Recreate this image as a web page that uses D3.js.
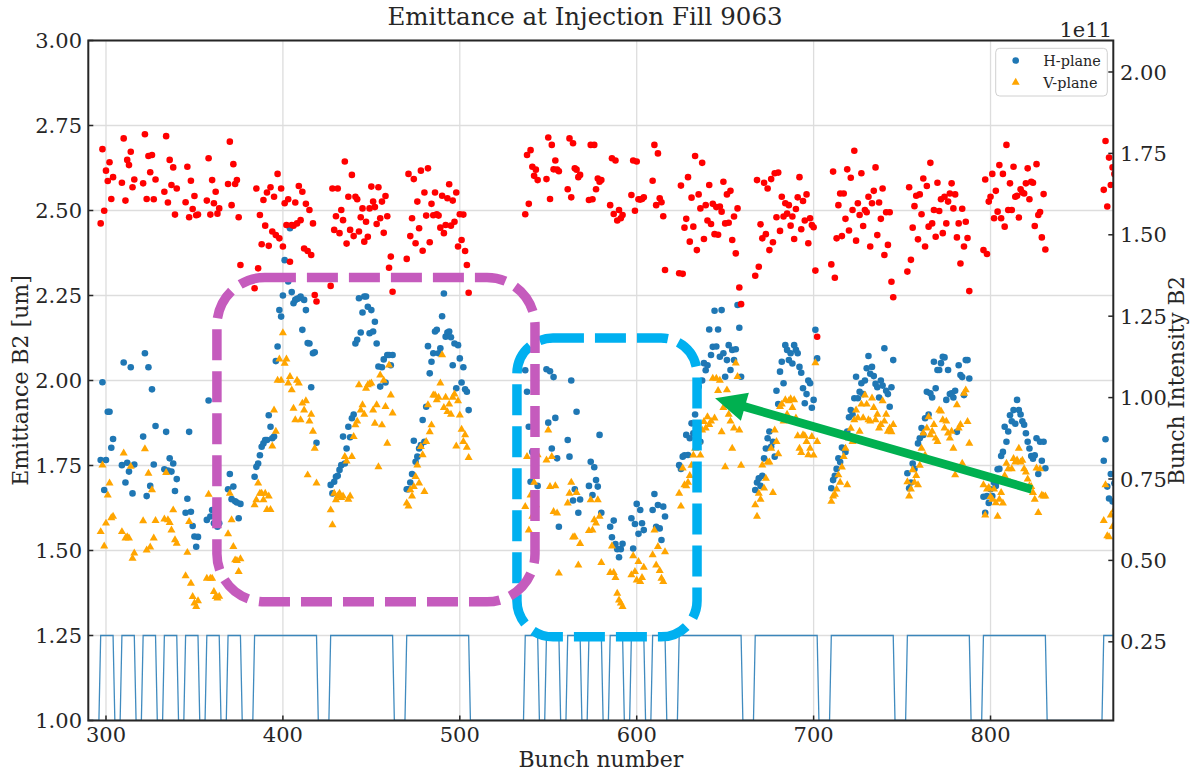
<!DOCTYPE html>
<html>
<head>
<meta charset="utf-8">
<script src="https://cdn.jsdelivr.net/npm/d3@7"></script>
<style>
  body { margin: 0; background: #fff; }
  text { font-family: "DejaVu Serif", serif; fill: #262626; }
</style>
</head>
<body>
<svg id="chart" width="1191" height="771"></svg>
<script>
// ---- Filling scheme: first slot and number of bunches of every train ----
const trainStart  = [297, 309, 321, 333, 345, 357, 369, 384, 427, 470,
                     537, 549, 561, 573, 585, 597, 609, 624, 667, 710, 753, 796, 864];
const trainLength = [8, 8, 8, 8, 8, 8, 8, 36, 36, 36,
                     8, 8, 8, 8, 8, 8, 8, 36, 36, 36, 36, 36, 8];

// ---- Horizontal emittance per bunch [um] ----
const emitH = [
  1.766, 1.995, 1.678, 1.766, 1.908, 1.908, 1.802, 1.828,
  1.751, 2.053, 1.700, 1.758, 1.732, 2.039, 1.668, 1.753,
  1.835, 2.080, 1.660, 2.039, 1.690, 1.974, 1.753, 1.866,
  1.739, 1.849, 1.735, 1.771, 1.732, 1.756, 1.675, 1.710,
  1.611, 1.652, 1.849, 1.614, 1.572, 1.541, 1.511, 1.540,
  1.590, 1.941, 1.600, 1.619, 1.580, 1.610, 1.570, 1.580,
  1.680, 1.725, 1.651, 1.688, 1.645, 1.641, 1.595, 1.637,
  1.717, 1.746, 1.756, 1.780, 1.805, 1.815, 1.825, 1.825, 1.898, 1.864,
  1.830, 1.835, 2.057, 2.100, 2.207, 2.188, 2.250, 2.354, 2.300, 2.291,
  2.448, 2.260, 2.227, 2.237, 2.240, 2.242, 2.247, 2.149, 2.237, 2.207,
  2.110, 2.109, 1.980, 2.080, 2.083, 1.817,
  1.693, 1.668, 1.702, 1.717, 1.720, 1.737, 1.751, 1.835, 1.756, 1.800,
  1.864, 1.833, 1.889, 1.900, 2.109, 2.120, 2.242, 2.141, 2.200, 2.247,
  2.247, 2.217, 2.139, 2.207, 2.144, 2.173, 2.109, 2.041, 1.982, 2.039,
  2.062, 1.994, 2.075, 2.075, 2.045, 2.075,
  1.680, 1.680, 1.700, 1.725, 1.823, 1.761, 1.776, 1.800, 1.810, 1.884,
  1.820, 1.923, 2.101, 2.021, 2.055, 2.080, 2.144, 2.149, 2.080, 2.095,
  2.189, 2.256, 2.129, 2.141, 2.144, 2.127, 2.045, 2.109, 1.977, 2.104,
  2.065, 1.994, 2.039, 1.974, 1.967, 1.913,
  2.030, 1.967, 1.864, 1.702, 1.790, 1.786, 1.770, 1.690,
  2.033, 1.876, 2.027, 1.800, 2.010, 1.890, 1.771, 1.570,
  1.825, 1.776, 2.000, 1.647, 1.680, 1.908, 1.611, 1.650,
  1.690, 1.761, 1.663, 1.745, 1.707, 1.688, 1.840, 1.611,
  1.570, 1.539, 1.588, 1.519, 1.504, 1.480, 1.504, 1.520,
  1.595, 1.506, 1.578, 1.637, 1.549, 1.619, 1.580, 1.560,
  1.619, 1.666, 1.570, 1.634, 1.565, 1.531, 1.629, 1.600,
  1.751, 1.740, 1.776, 1.780, 1.840, 1.781, 1.830, 1.874, 1.845, 1.900,
  1.950, 1.982, 1.820, 2.000, 2.051, 2.030, 2.045, 2.150, 2.075, 2.099,
  2.205, 2.100, 2.150, 2.070, 2.207, 2.080, 2.011, 2.060, 2.104, 2.031,
  2.090, 2.060, 2.092, 2.222, 2.155, 2.011,
  1.678, 1.700, 1.712, 1.690, 1.720, 1.771, 1.800, 1.830, 1.850, 1.805,
  1.820, 1.776, 1.970, 1.931, 2.026, 2.055, 1.992, 2.104, 2.090, 2.060,
  2.080, 2.050, 2.104, 2.090, 2.080, 2.040, 2.023, 1.977, 1.933, 1.960,
  2.000, 1.992, 1.920, 1.943, 2.149, 2.065,
  1.683, 1.707, 1.720, 1.740, 1.771, 1.760, 1.803, 1.800, 1.790, 1.850,
  1.892, 1.913, 1.900, 1.948, 2.011, 1.948, 1.967, 1.992, 1.960, 2.000,
  2.036, 2.072, 2.020, 2.040, 2.013, 1.990, 1.980, 1.950, 2.000, 1.985,
  2.095, 1.970, 1.960, 1.923, 1.980, 2.060,
  1.727, 1.683, 1.700, 1.756, 1.740, 1.780, 1.815, 1.830, 1.860, 1.840,
  1.889, 1.967, 1.900, 1.962, 1.950, 2.055, 1.977, 2.031, 2.031, 2.051,
  2.070, 2.068, 1.943, 2.031, 1.960, 1.962, 1.950, 1.970, 1.849, 2.045,
  2.016, 2.010, 1.957, 2.060, 2.060, 2.006,
  1.658, 1.611, 1.660, 1.640, 1.680, 1.660, 1.700, 1.690, 1.739, 1.740,
  1.778, 1.790, 1.864, 1.820, 1.850, 1.898, 1.880, 1.913, 1.873, 1.943,
  1.913, 1.900, 1.880, 1.870, 1.845, 1.820, 1.800, 1.778, 1.770, 1.780,
  1.830, 1.725, 1.820, 1.764, 1.820, 1.742,
  1.764, 1.827, 1.688, 1.653, 1.725, 1.644, 1.698, 1.720
];

// ---- Vertical emittance per bunch [um] ----
const emitV = [
  1.555, 1.751, 1.513, 1.580, 1.663, 1.698, 1.596, 1.600,
  1.555, 1.786, 1.536, 1.540, 1.536, 1.747, 1.477, 1.492,
  1.587, 1.799, 1.501, 1.727, 1.510, 1.678, 1.536, 1.588,
  1.592, 1.729, 1.590, 1.582, 1.560, 1.619, 1.531, 1.521,
  1.425, 1.494, 1.585, 1.403, 1.364, 1.345, 1.335, 1.352,
  1.418, 1.665, 1.418, 1.418, 1.379, 1.364, 1.360, 1.365,
  1.549, 1.668, 1.590, 1.511, 1.472, 1.470, 1.438, 1.475,
  1.634, 1.649, 1.698, 1.668, 1.668, 1.649, 1.668, 1.620, 1.660, 1.620,
  1.807, 1.913, 1.850, 2.000, 2.063, 2.000, 2.140, 2.050, 2.063, 1.992,
  2.011, 1.972, 1.918, 1.884, 2.000, 1.992, 1.884, 1.933, 1.913, 1.940,
  1.722, 1.880, 1.900, 1.850, 1.800, 1.698,
  1.619, 1.575, 1.668, 1.649, 1.660, 1.668, 1.655, 1.660, 1.776, 1.763,
  1.650, 1.660, 1.776, 1.835, 1.869, 1.880, 1.987, 1.913, 1.928, 1.900,
  1.977, 1.987, 1.990, 1.992, 1.913, 1.874, 1.928, 1.746, 2.016, 1.869,
  2.000, 1.923, 1.815, 2.045, 1.957, 1.904,
  1.639, 1.630, 1.678, 1.660, 1.688, 1.717, 1.751, 1.698, 1.805, 1.781,
  1.673, 1.820, 1.928, 1.849, 1.869, 1.957, 1.957, 1.943, 1.950, 1.992,
  2.075, 1.920, 1.950, 1.908, 1.930, 1.900, 1.950, 1.960, 1.807, 1.940,
  1.898, 1.856, 1.820, 1.840, 1.803, 1.773,
  1.629, 1.776, 1.560, 1.663, 1.600, 1.700, 1.634, 1.781,
  1.766, 1.854, 1.688, 1.776, 1.614, 1.690, 1.610, 1.433,
  1.639, 1.668, 1.700, 1.539, 1.540, 1.670, 1.457, 1.520,
  1.558, 1.649, 1.560, 1.590, 1.580, 1.649, 1.600, 1.464,
  1.435, 1.513, 1.435, 1.420, 1.374, 1.354, 1.345, 1.335,
  1.428, 1.484, 1.438, 1.413, 1.467, 1.408, 1.420, 1.450,
  1.487, 1.560, 1.457, 1.511, 1.441, 1.418, 1.408, 1.496,
  1.668, 1.630, 1.742, 1.693, 1.690, 1.700, 1.720, 1.750, 1.780, 1.800,
  1.830, 1.820, 1.780, 1.854, 1.879, 1.860, 1.893, 1.870, 1.880, 2.006,
  1.889, 2.006, 1.970, 2.000, 1.849, 1.920, 1.746, 1.972, 1.900, 1.880,
  1.800, 1.860, 2.051, 2.011, 1.854, 1.750,
  1.634, 1.600, 1.668, 1.650, 1.751, 1.683, 1.712, 1.760, 1.760, 1.800,
  1.670, 1.854, 1.820, 1.784, 1.923, 1.930, 1.880, 1.943, 1.900, 1.940,
  1.946, 1.920, 1.943, 1.889, 1.837, 1.800, 1.788, 1.840, 1.837, 1.820,
  1.781, 1.800, 1.835, 1.780, 2.052, 1.820,
  1.644, 1.660, 1.665, 1.680, 1.722, 1.700, 1.745, 1.776, 1.800, 1.693,
  1.830, 1.859, 1.820, 1.884, 1.913, 1.890, 1.850, 1.930, 1.890, 1.957,
  1.930, 1.884, 1.880, 1.948, 1.920, 1.884, 1.900, 1.860, 1.870, 1.940,
  1.880, 1.900, 1.850, 1.860, 1.849, 1.870,
  1.702, 1.660, 1.680, 1.737, 1.700, 1.720, 1.693, 1.750, 1.800, 1.845,
  1.780, 1.860, 1.893, 1.840, 1.850, 1.870, 1.830, 1.820, 1.913, 1.910,
  1.884, 1.860, 1.880, 1.845, 1.830, 1.850, 1.800, 1.722, 1.928, 1.860,
  1.870, 1.756, 1.962, 1.972, 1.879, 1.815,
  1.693, 1.604, 1.680, 1.685, 1.658, 1.650, 1.680, 1.640, 1.600, 1.650,
  1.670, 1.639, 1.720, 1.756, 1.740, 1.700, 1.740, 1.770, 1.760, 1.766,
  1.800, 1.760, 1.765, 1.740, 1.730, 1.710, 1.690, 1.688, 1.670, 1.650,
  1.742, 1.611, 1.740, 1.663, 1.660, 1.660,
  1.588, 1.693, 1.543, 1.540, 1.604, 1.570, 1.620, 1.600
];

// ---- Bunch intensity per bunch [1e11 p] ----
const intensity = [
  1.535, 1.763, 1.574, 1.697, 1.665, 1.723, 1.610, 1.677,
  1.660, 1.796, 1.605, 1.730, 1.714, 1.755, 1.646, 1.670,
  1.658, 1.809, 1.610, 1.742, 1.692, 1.745, 1.609, 1.670,
  1.632, 1.803, 1.599, 1.730, 1.653, 1.707, 1.562, 1.642,
  1.600, 1.709, 1.554, 1.666, 1.579, 1.619, 1.560, 1.562,
  1.605, 1.735, 1.562, 1.668, 1.597, 1.632, 1.565, 1.581,
  1.656, 1.786, 1.591, 1.717, 1.656, 1.668, 1.554, 1.407,
  1.336, 1.642, 1.397, 1.561, 1.471, 1.607, 1.528, 1.630, 1.466, 1.646,
  1.510, 1.617, 1.499, 1.687, 1.489, 1.642, 1.464, 1.597, 1.530, 1.609,
  1.417, 1.530, 1.528, 1.599, 1.535, 1.650, 1.545, 1.632, 1.458, 1.595,
  1.450, 1.576, 1.438, 1.535, 1.315, 1.295,
  1.343, 1.642, 1.515, 1.557, 1.642, 1.505, 1.576, 1.545, 1.725, 1.473,
  1.617, 1.515, 1.684, 1.496, 1.617, 1.609, 1.510, 1.554, 1.581, 1.479,
  1.540, 1.494, 1.581, 1.648, 1.602, 1.585, 1.533, 1.646, 1.551, 1.602,
  1.506, 1.619, 1.557, 1.399, 1.433, 1.325,
  1.426, 1.687, 1.496, 1.551, 1.671, 1.474, 1.602, 1.520, 1.697, 1.451,
  1.630, 1.559, 1.704, 1.477, 1.595, 1.560, 1.630, 1.563, 1.559, 1.522,
  1.620, 1.505, 1.530, 1.612, 1.655, 1.528, 1.605, 1.540, 1.630, 1.464,
  1.563, 1.484, 1.562, 1.450, 1.407, 1.322,
  1.563, 1.745, 1.595, 1.760, 1.709, 1.681, 1.700, 1.668,
  1.671, 1.799, 1.610, 1.776, 1.701, 1.728, 1.700, 1.695,
  1.640, 1.796, 1.615, 1.781, 1.704, 1.700, 1.677, 1.684,
  1.607, 1.776, 1.609, 1.776, 1.640, 1.673, 1.663, 1.668,
  1.591, 1.735, 1.564, 1.728, 1.544, 1.576, 1.551, 1.561,
  1.622, 1.728, 1.574, 1.725, 1.609, 1.608, 1.610, 1.615,
  1.666, 1.776, 1.591, 1.750, 1.612, 1.600, 1.557, 1.392,
  1.382, 1.651, 1.380, 1.522, 1.549, 1.677, 1.479, 1.614, 1.525, 1.742,
  1.453, 1.624, 1.581, 1.721, 1.487, 1.591, 1.544, 1.653, 1.533, 1.595,
  1.502, 1.585, 1.500, 1.587, 1.571, 1.663, 1.535, 1.624, 1.537, 1.635,
  1.484, 1.556, 1.443, 1.581, 1.338, 1.287,
  1.374, 1.668, 1.402, 1.532, 1.489, 1.660, 1.502, 1.642, 1.453, 1.671,
  1.477, 1.689, 1.554, 1.691, 1.512, 1.617, 1.556, 1.597, 1.565, 1.591,
  1.528, 1.556, 1.487, 1.579, 1.615, 1.677, 1.517, 1.604, 1.544, 1.624,
  1.474, 1.551, 1.530, 1.523, 1.390, 1.187,
  1.409, 1.694, 1.368, 1.489, 1.591, 1.627, 1.496, 1.627, 1.549, 1.701,
  1.513, 1.675, 1.576, 1.758, 1.482, 1.597, 1.561, 1.689, 1.527, 1.576,
  1.569, 1.617, 1.464, 1.597, 1.635, 1.707, 1.499, 1.599, 1.549, 1.642,
  1.438, 1.569, 1.469, 1.569, 1.356, 1.308,
  1.387, 1.646, 1.423, 1.522, 1.588, 1.620, 1.486, 1.624, 1.563, 1.673,
  1.464, 1.650, 1.525, 1.721, 1.535, 1.576, 1.494, 1.660, 1.573, 1.609,
  1.505, 1.617, 1.535, 1.602, 1.627, 1.658, 1.581, 1.624, 1.492, 1.535,
  1.412, 1.580, 1.464, 1.540, 1.490, 1.327,
  1.453, 1.670, 1.441, 1.602, 1.617, 1.687, 1.551, 1.635, 1.571, 1.714,
  1.551, 1.687, 1.525, 1.776, 1.576, 1.658, 1.576, 1.709, 1.617, 1.620,
  1.553, 1.640, 1.630, 1.627, 1.658, 1.704, 1.609, 1.663, 1.660, 1.527,
  1.717, 1.561, 1.570, 1.492, 1.625, 1.455,
  1.638, 1.788, 1.587, 1.737, 1.653, 1.707, 1.687, 1.650
];

// ---- Axis ticks ----
const xTicks      = [300, 400, 500, 600, 700, 800];
const yTicksLeft  = [1.00, 1.25, 1.50, 1.75, 2.00, 2.25, 2.50, 2.75, 3.00];
const yTicksRight = [0.25, 0.50, 0.75, 1.00, 1.25, 1.50, 1.75, 2.00];

// Filling-pattern trace levels (drawn on the emittance axis)
const fillLevelOn = 1.25, fillLevelOff = 1.0;

// Highlight annotations, in data units (bunch, emittance)
const boxMagenta = { x0: 362.7, x1: 542.5, y0: 2.303, y1: 1.349 };
const boxCyan    = { x0: 532.3, x1: 634.1, y0: 2.125, y1: 1.246 };
const arrowGreen = { from: [823.3, 1.680], to: [644.3, 1.948] };

// ---------------------------------------------------------------------
const svg = d3.select("#chart");
const plot = { left: 88.3, right: 1113.3, top: 40.5, bottom: 720.5 };

const x  = d3.scaleLinear().domain([290, 869.4]).range([plot.left, plot.right]);
const yL = d3.scaleLinear().domain([1.0, 3.0]).range([plot.bottom, plot.top]);
const yR = d3.scaleLinear().domain([0.0083, 2.0967]).range([plot.bottom, plot.top]);

const bunches = trainStart.flatMap((s, i) => d3.range(s, s + trainLength[i]));
const rows = bunches.map((b, i) => ({ b, h: emitH[i], v: emitV[i], n: intensity[i] }));

const filled = new Set(bunches);
const fillTrace = d3.range(290, 872).map(s => ({ s, y: filled.has(s) ? fillLevelOn : fillLevelOff }));

svg.append("defs").append("clipPath").attr("id", "plotClip")
  .append("rect")
  .attr("x", plot.left).attr("y", plot.top)
  .attr("width", plot.right - plot.left).attr("height", plot.bottom - plot.top);

// grid
const grid = svg.append("g").attr("stroke", "#dddddd").attr("stroke-width", 1.3);
grid.selectAll("line.gx").data(xTicks).join("line")
  .attr("x1", d => x(d)).attr("x2", d => x(d))
  .attr("y1", plot.top).attr("y2", plot.bottom);
grid.selectAll("line.gy").data(yTicksLeft).join("line")
  .attr("x1", plot.left).attr("x2", plot.right)
  .attr("y1", d => yL(d)).attr("y2", d => yL(d));

const body = svg.append("g").attr("clip-path", "url(#plotClip)");

// H-plane emittance
body.append("g").selectAll("circle").data(rows).join("circle")
  .attr("cx", d => x(d.b)).attr("cy", d => yL(d.h)).attr("r", 3.3)
  .attr("fill", "#1f77b4");

// V-plane emittance
const tri = d3.symbol().type(d3.symbolTriangle).size(28);
body.append("g").selectAll("path").data(rows).join("path")
  .attr("d", tri)
  .attr("transform", d => `translate(${x(d.b)},${yL(d.v)})`)
  .attr("fill", "#ffa500");

// bunch intensity
body.append("g").selectAll("circle").data(rows).join("circle")
  .attr("cx", d => x(d.b)).attr("cy", d => yR(d.n)).attr("r", 3.3)
  .attr("fill", "#ff0000");

// filling pattern
body.append("path").datum(fillTrace)
  .attr("d", d3.line().x(d => x(d.s)).y(d => yL(d.y)))
  .attr("fill", "none").attr("stroke", "#1f77b4").attr("stroke-width", 1.3)
  .attr("stroke-opacity", 0.85);

// spines
svg.append("rect")
  .attr("x", plot.left).attr("y", plot.top)
  .attr("width", plot.right - plot.left).attr("height", plot.bottom - plot.top)
  .attr("fill", "none").attr("stroke", "#262626").attr("stroke-width", 2);

// ticks (inward)
const tk = svg.append("g").attr("stroke", "#262626").attr("stroke-width", 1.5);
tk.selectAll("line.tx").data(xTicks).join("line")
  .attr("x1", d => x(d)).attr("x2", d => x(d))
  .attr("y1", plot.bottom).attr("y2", plot.bottom - 5);
tk.selectAll("line.tl").data(yTicksLeft).join("line")
  .attr("x1", plot.left).attr("x2", plot.left + 5)
  .attr("y1", d => yL(d)).attr("y2", d => yL(d));
tk.selectAll("line.tr").data(yTicksRight).join("line")
  .attr("x1", plot.right).attr("x2", plot.right - 5)
  .attr("y1", d => yR(d)).attr("y2", d => yR(d));

// tick labels
const lbl = svg.append("g").attr("font-size", 21);
lbl.selectAll("text.lx").data(xTicks).join("text")
  .attr("x", d => x(d)).attr("y", 742).attr("text-anchor", "middle")
  .text(d => d3.format("d")(d));
lbl.selectAll("text.ll").data(yTicksLeft).join("text")
  .attr("x", 82).attr("y", d => yL(d) + 7.6).attr("text-anchor", "end")
  .text(d => d3.format(".2f")(d));
lbl.selectAll("text.lr").data(yTicksRight).join("text")
  .attr("x", 1120).attr("y", d => yR(d) + 7.6).attr("text-anchor", "start")
  .text(d => d3.format(".2f")(d));

svg.append("text").attr("x", 1112).attr("y", 36.5).attr("text-anchor", "end")
  .attr("font-size", 21).text("1e11");

// titles
svg.append("text").attr("x", 585).attr("y", 25)
  .attr("text-anchor", "middle").attr("font-size", 24.5)
  .text("Emittance at Injection Fill 9063");
svg.append("text").attr("x", (plot.left + plot.right) / 2).attr("y", 767)
  .attr("text-anchor", "middle").attr("font-size", 22).text("Bunch number");
svg.append("text")
  .attr("transform", `translate(28,${(plot.top + plot.bottom) / 2}) rotate(-90)`)
  .attr("text-anchor", "middle").attr("font-size", 22).text("Emittance B2 [um]");
svg.append("text")
  .attr("transform", `translate(1184,${(plot.top + plot.bottom) / 2}) rotate(-90)`)
  .attr("text-anchor", "middle").attr("font-size", 21.5).text("Bunch Intensity B2");

// legend
const lg = svg.append("g");
lg.append("rect").attr("x", 995.7).attr("y", 48.3).attr("width", 111.6).attr("height", 47.7)
  .attr("rx", 4).attr("fill", "#fff").attr("fill-opacity", 0.8)
  .attr("stroke", "#d0d0d0").attr("stroke-width", 1);
lg.append("circle").attr("cx", 1015.7).attr("cy", 60.5).attr("r", 3.3).attr("fill", "#1f77b4");
lg.append("path").attr("d", tri).attr("transform", "translate(1015.7,82.5)").attr("fill", "#ffa500");
lg.append("text").attr("x", 1043.3).attr("y", 65.5).attr("font-size", 14.4).text("H-plane");
lg.append("text").attr("x", 1043.3).attr("y", 87.5).attr("font-size", 14.4).text("V-plane");

// highlight boxes
function roundBox(b, color, r) {
  const X0 = x(b.x0), X1 = x(b.x1), Y0 = yL(b.y0), Y1 = yL(b.y1);
  svg.append("rect")
    .attr("x", X0).attr("y", Y0).attr("width", X1 - X0).attr("height", Y1 - Y0)
    .attr("rx", r).attr("ry", r)
    .attr("fill", "none").attr("stroke", color).attr("stroke-width", 9.5)
    .attr("stroke-dasharray", "31 11");
}
roundBox(boxCyan, "#00b0f0", 36);
roundBox(boxMagenta, "#c55bbd", 48);

// arrow
(function () {
  const [fx, fy] = [x(arrowGreen.from[0]), yL(arrowGreen.from[1])];
  const [tx, ty] = [x(arrowGreen.to[0]), yL(arrowGreen.to[1])];
  const L = Math.hypot(tx - fx, ty - fy);
  const ux = (tx - fx) / L, uy = (ty - fy) / L, px = -uy, py = ux;
  const sw = 4.3, hw = 14.5, hl = 31;
  const bx = tx - ux * hl, by = ty - uy * hl;
  const pts = [
    [fx + px * sw, fy + py * sw], [bx + px * sw, by + py * sw], [bx + px * hw, by + py * hw],
    [tx, ty],
    [bx - px * hw, by - py * hw], [bx - px * sw, by - py * sw], [fx - px * sw, fy - py * sw]
  ];
  svg.append("polygon").attr("points", pts.map(p => p.join(",")).join(" "))
    .attr("fill", "#00b050");
})();
</script>
</body>
</html>
